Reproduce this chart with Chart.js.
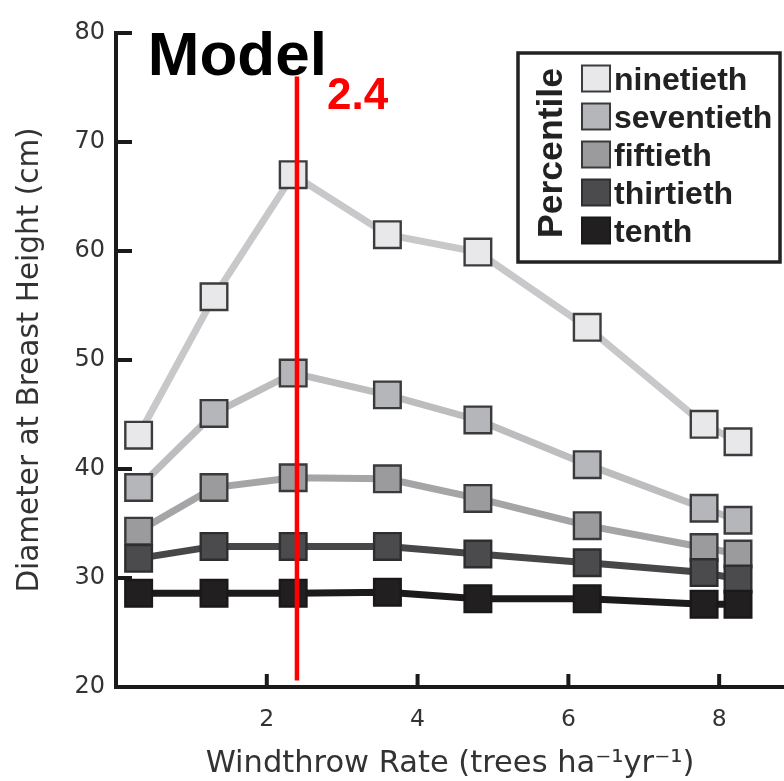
<!DOCTYPE html>
<html>
<head>
<meta charset="utf-8">
<script src="https://cdn.jsdelivr.net/npm/chart.js@4/dist/chart.umd.min.js"></script>
<style>
  html, body { margin: 0; padding: 0; background: #ffffff; }
  canvas { display: block; }
</style>
</head>
<body>
<canvas id="dbhChart" width="784" height="781"></canvas>
<script>
// Windthrow rate (trees ha^-1 yr^-1) for each stand
const windthrowRates = [0.3, 1.3, 2.35, 3.6, 4.8, 6.25, 7.8, 8.25];

// Diameter at breast height (cm) by percentile
const percentileNames = ['ninetieth', 'seventieth', 'fiftieth', 'thirtieth', 'tenth'];
const ninetieth  = [43.1, 55.8, 67.0, 61.5, 59.9, 53.0, 44.1, 42.5];
const seventieth = [38.3, 45.1, 48.8, 46.8, 44.5, 40.4, 36.4, 35.3];
const fiftieth   = [34.3, 38.3, 39.2, 39.1, 37.3, 34.8, 32.8, 32.2];
const thirtieth  = [31.8, 32.9, 32.9, 32.9, 32.2, 31.4, 30.5, 29.9];
const tenth      = [28.6, 28.6, 28.6, 28.7, 28.1, 28.1, 27.6, 27.6];

// Axis ticks
const xTickValues = [2, 4, 6, 8];
const yTickValues = [20, 30, 40, 50, 60, 70, 80];

// Model windthrow rate marker
const modelRate = 2.4;
const modelLineTop = 76;
const modelLineBottom = 20.6;
const modelLabel = 'Model';

const seriesValues = [ninetieth, seventieth, fiftieth, thirtieth, tenth];
const lineColors  = ['#c8c8ca', '#bdbdbf', '#a5a5a7', '#474749', '#1c1a1b'];
const fillColors  = ['#e8e8ea', '#b5b6b9', '#9b9b9e', '#4b4b4d', '#221f20'];
const edgeColors  = ['#3c3c3e', '#3a3a3c', '#3a3a3c', '#2e2e30', '#1a1819'];

const datasets = percentileNames.map((name, i) => ({
  label: name,
  data: windthrowRates.map((x, j) => ({ x: x, y: seriesValues[i][j] })),
  borderColor: lineColors[i],
  backgroundColor: fillColors[i],
  borderWidth: 7,
  tension: 0,
  pointStyle: 'rect',
  pointRadius: 18.8,
  pointHoverRadius: 18.8,
  pointBackgroundColor: fillColors[i],
  pointBorderColor: edgeColors[i],
  pointBorderWidth: 2.4,
  order: percentileNames.length - i
}));

const AXIS_COLOR = '#1a1a1a';
const TEXT_COLOR = '#333333';

// Inward tick marks on both axes
const innerTicks = {
  id: 'innerTicks',
  beforeDatasetsDraw(chart) {
    const { ctx, chartArea, scales: { x, y } } = chart;
    ctx.save();
    ctx.strokeStyle = AXIS_COLOR;
    ctx.lineWidth = 4;
    ctx.lineCap = 'butt';
    yTickValues.forEach(v => {
      const py = y.getPixelForValue(v);
      ctx.beginPath();
      ctx.moveTo(chartArea.left, py);
      ctx.lineTo(chartArea.left + 16, py);
      ctx.stroke();
    });
    xTickValues.forEach(v => {
      const px = x.getPixelForValue(v);
      ctx.beginPath();
      ctx.moveTo(px, chartArea.bottom);
      ctx.lineTo(px, chartArea.bottom - 13);
      ctx.stroke();
    });
    ctx.restore();
  }
};

// Vertical model-rate line with its labels
const modelMarker = {
  id: 'modelMarker',
  afterDatasetsDraw(chart) {
    const { ctx, scales: { x, y } } = chart;
    const lx = x.getPixelForValue(modelRate);
    const top = y.getPixelForValue(modelLineTop);
    const bottom = y.getPixelForValue(modelLineBottom);
    ctx.save();
    ctx.strokeStyle = '#ff0000';
    ctx.lineWidth = 4.5;
    ctx.beginPath();
    ctx.moveTo(lx, top);
    ctx.lineTo(lx, bottom);
    ctx.stroke();

    ctx.fillStyle = '#000000';
    ctx.font = 'bold 62px "Liberation Sans", Arial, sans-serif';
    ctx.textAlign = 'right';
    ctx.textBaseline = 'alphabetic';
    ctx.fillText(modelLabel, lx + 30, top - 2);

    ctx.fillStyle = '#ff0000';
    ctx.font = 'bold 44px "Liberation Sans", Arial, sans-serif';
    ctx.textAlign = 'left';
    ctx.fillText(String(modelRate), lx + 30, top + 32);
    ctx.restore();
  }
};

// Boxed legend with a vertical "Percentile" heading
const percentileLegend = {
  id: 'percentileLegend',
  afterDraw(chart) {
    const { ctx } = chart;
    const box = { left: 518, top: 53, right: 780, bottom: 262 };
    ctx.save();
    ctx.fillStyle = '#ffffff';
    ctx.fillRect(box.left, box.top, box.right - box.left, box.bottom - box.top);
    ctx.strokeStyle = '#222222';
    ctx.lineWidth = 3.5;
    ctx.strokeRect(box.left, box.top, box.right - box.left, box.bottom - box.top);

    // heading sized to span the item rows
    ctx.save();
    ctx.translate(562, 153);
    ctx.rotate(-Math.PI / 2);
    ctx.fillStyle = '#222222';
    ctx.font = 'bold 35px "Liberation Sans", Arial, sans-serif';
    const w = ctx.measureText('Percentile').width;
    const size = 35 * 170 / w;
    ctx.font = 'bold ' + size.toFixed(1) + 'px "Liberation Sans", Arial, sans-serif';
    ctx.textAlign = 'center';
    ctx.textBaseline = 'alphabetic';
    ctx.fillText('Percentile', 0, 0);
    ctx.restore();

    chart.data.datasets.forEach((ds, i) => {
      const cy = 78.5 + i * 38;
      ctx.fillStyle = ds.pointBackgroundColor;
      ctx.fillRect(582, cy - 13, 28, 26);
      ctx.strokeStyle = ds.pointBorderColor;
      ctx.lineWidth = 2;
      ctx.strokeRect(582, cy - 13, 28, 26);
      ctx.fillStyle = '#222222';
      ctx.font = 'bold 32px "Liberation Sans", Arial, sans-serif';
      ctx.textAlign = 'left';
      ctx.textBaseline = 'alphabetic';
      ctx.fillText(ds.label, 614, cy + 11);
    });
    ctx.restore();
  }
};

new Chart(document.getElementById('dbhChart'), {
  type: 'line',
  data: { datasets: datasets },
  plugins: [innerTicks, modelMarker, percentileLegend],
  options: {
    responsive: false,
    animation: false,
    devicePixelRatio: 1,
    events: [],
    layout: { autoPadding: false, padding: { top: 33, right: 0, bottom: 0, left: 0 } },
    plugins: {
      legend: { display: false },
      tooltip: { enabled: false },
      title: { display: false }
    },
    scales: {
      x: {
        type: 'linear',
        min: 0,
        max: 8.86,
        afterBuildTicks(scale) {
          scale.ticks = xTickValues.map(v => ({ value: v }));
        },
        afterFit(scale) {
          scale.height = 94;
          scale.paddingLeft = 0;
          scale.paddingRight = 0;
        },
        grid: { display: true, drawOnChartArea: false, drawTicks: false },
        border: { display: true, color: AXIS_COLOR, width: 4 },
        ticks: {
          color: TEXT_COLOR,
          padding: 19,
          maxRotation: 0,
          font: { family: '"DejaVu Sans", sans-serif', size: 23.5 }
        },
        title: {
          display: true,
          text: 'Windthrow Rate (trees ha⁻¹yr⁻¹)',
          color: TEXT_COLOR,
          padding: { top: 0, bottom: 2 },
          font: { family: '"DejaVu Sans", sans-serif', size: 30.5, lineHeight: 1.0 }
        }
      },
      y: {
        type: 'linear',
        min: 20,
        max: 80,
        afterBuildTicks(scale) {
          scale.ticks = yTickValues.map(v => ({ value: v }));
        },
        afterFit(scale) {
          scale.width = 116;
          scale.paddingTop = 0;
          scale.paddingBottom = 0;
        },
        grid: { display: true, drawOnChartArea: false, drawTicks: false },
        border: { display: true, color: AXIS_COLOR, width: 4 },
        ticks: {
          color: TEXT_COLOR,
          padding: 11,
          font: { family: '"DejaVu Sans", sans-serif', size: 24 }
        },
        title: {
          display: true,
          text: 'Diameter at Breast Height (cm)',
          color: TEXT_COLOR,
          padding: { top: 16, bottom: 0 },
          font: { family: '"DejaVu Sans", sans-serif', size: 29.5, lineHeight: 1.0 }
        }
      }
    }
  }
});
</script>
</body>
</html>
